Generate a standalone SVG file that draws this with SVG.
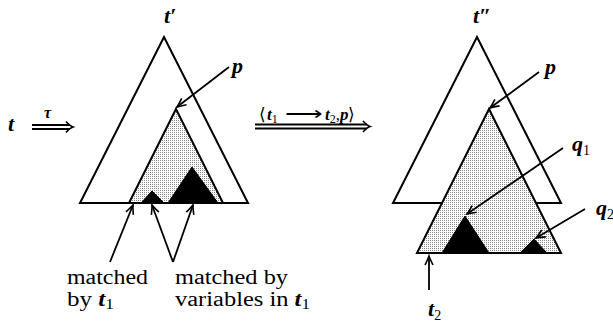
<svg xmlns="http://www.w3.org/2000/svg" width="613" height="323" viewBox="0 0 613 323">
<style>
.tri{stroke:#000;stroke-width:2;stroke-linejoin:miter}
.outer{fill:#fff}
.shade{fill:url(#dots)}
.blk{fill:#000;stroke:#000;stroke-width:1}
.con{stroke:#000;stroke-width:1.8;fill:none}
.head{stroke:#000;stroke-width:1.6;fill:none}
.math{font-family:"Liberation Serif","Times New Roman",serif;font-style:italic;font-weight:bold;fill:#000}
.rm{font-family:"Liberation Serif","Times New Roman",serif;fill:#000}
.sub{font-style:normal;font-weight:normal}
</style>
<defs>
<pattern id="dots" width="2" height="2" patternUnits="userSpaceOnUse">
<rect width="2" height="2" fill="#fff"/>
<rect width="1" height="1" fill="#8a8a8a"/>
</pattern>
<marker id="ah" markerWidth="12" markerHeight="12" viewBox="-10 -6 12 12" refX="0" refY="0" orient="auto" markerUnits="userSpaceOnUse">
<path d="M-9,-4 Q-3,-1 0,0 Q-3,1 -9,4" fill="none" stroke="#000" stroke-width="1.6"/>
</marker>
</defs>

<g id="tree-t-prime">
<polygon class="tri outer" points="164,37 80,203 248,203"/>
<polygon class="tri shade" points="176,109 129,203 223,203"/>
<polygon class="blk" points="141,203 152,191 164,203"/>
<polygon class="blk" points="168,203 192,167 218,203"/>
<text class="math" x="164" y="23" font-size="22">t′</text>
</g>

<g id="tree-t-dprime">
<polygon class="tri outer" points="477,37 393,203 561,203"/>
<polygon class="tri shade" points="489,109 417,253 561,253"/>
<polygon class="blk" points="442,253 465,216 489,253"/>
<polygon class="blk" points="520,253 534,239 547,253"/>
<text class="math" x="473" y="23" font-size="22">t″</text>
</g>

<g id="connectors">
<line class="con" x1="229" y1="67" x2="177" y2="107" marker-end="url(#ah)"/>
<line class="con" x1="539" y1="72" x2="490" y2="108" marker-end="url(#ah)"/>
<line class="con" x1="563" y1="148" x2="467" y2="214" marker-end="url(#ah)"/>
<line class="con" x1="585" y1="209" x2="536" y2="238" marker-end="url(#ah)"/>
<line class="con" x1="429" y1="290" x2="429" y2="256" marker-end="url(#ah)"/>
<line class="con" x1="110" y1="262" x2="133" y2="205" marker-end="url(#ah)"/>
<line class="con" x1="173" y1="262" x2="152" y2="205" marker-end="url(#ah)"/>
<line class="con" x1="173" y1="262" x2="193" y2="205" marker-end="url(#ah)"/>
<g id="arrow-tau">
<line class="con" x1="32" y1="125" x2="70" y2="125" stroke-width="1.4"/>
<line class="con" x1="32" y1="129" x2="70" y2="129" stroke-width="1.4"/>
<path class="head" d="M66,121.5 Q70,126 73,127 Q70,128 66,132.5"/>
</g>
<g id="arrow-rewrite">
<line class="con" x1="255" y1="124.5" x2="367" y2="124.5" stroke-width="1.4"/>
<line class="con" x1="255" y1="128.5" x2="367" y2="128.5" stroke-width="1.4"/>
<path class="head" d="M363,121 Q367,125.5 370,126.5 Q367,127.5 363,132"/>
</g>
</g>

<g id="labels">
<text class="math" x="8" y="131" font-size="22">t</text>
<text class="math" x="44" y="118" font-size="16">τ</text>
<text class="math" x="259" y="120" font-size="17"><tspan class="sub">⟨</tspan><tspan x="267">t</tspan><tspan class="sub" dy="3" font-size="12">1</tspan><tspan class="sub" x="285" dy="-3" textLength="37" lengthAdjust="spacingAndGlyphs">⟶</tspan><tspan x="325">t</tspan><tspan class="sub" dy="3" font-size="12">2</tspan><tspan class="sub" dy="-3">,</tspan><tspan>p</tspan><tspan class="sub">⟩</tspan></text>
<text class="math" x="232" y="73" font-size="22">p</text>
<text class="math" x="545" y="74" font-size="22">p</text>
<text class="math" x="572" y="151" font-size="22">q<tspan class="sub" dy="4" font-size="14">1</tspan></text>
<text class="math" x="596" y="215" font-size="22">q<tspan class="sub" dy="4" font-size="14">2</tspan></text>
<text class="math" x="428" y="316" font-size="22">t<tspan class="sub" dy="4" font-size="14">2</tspan></text>
<text class="rm" x="67" y="284" font-size="20" textLength="81" lengthAdjust="spacingAndGlyphs">matched</text>
<text class="rm" x="67" y="306" font-size="20" textLength="47" lengthAdjust="spacingAndGlyphs">by <tspan class="math" font-weight="normal">t</tspan><tspan dy="3" font-size="14">1</tspan></text>
<text class="rm" x="175" y="284" font-size="20" textLength="113" lengthAdjust="spacingAndGlyphs">matched by</text>
<text class="rm" x="175" y="306" font-size="20" textLength="135" lengthAdjust="spacingAndGlyphs">variables in <tspan class="math" font-weight="normal">t</tspan><tspan dy="3" font-size="14">1</tspan></text>
</g>
</svg>
